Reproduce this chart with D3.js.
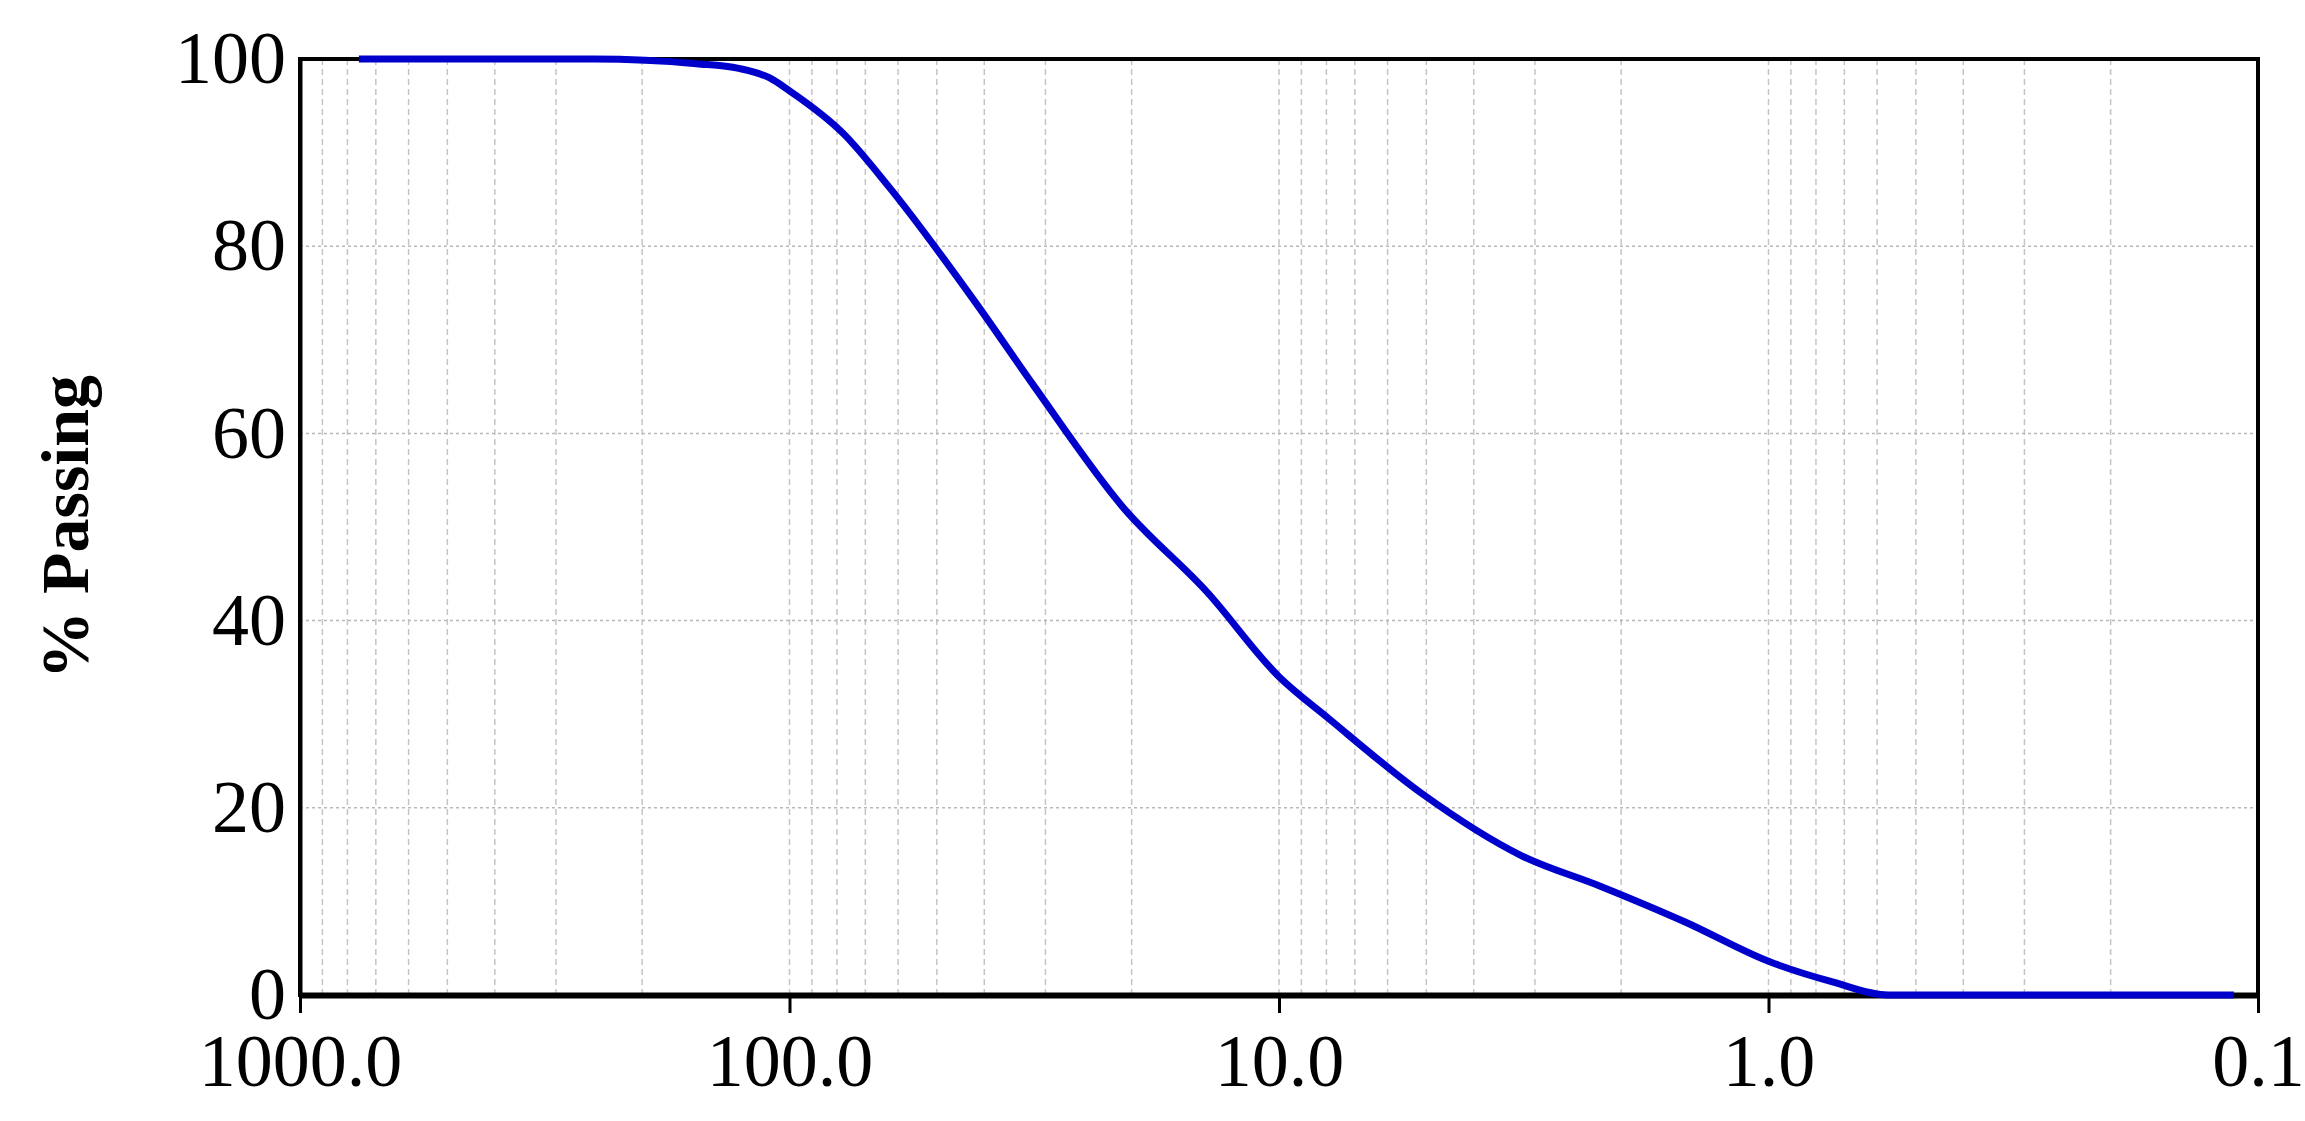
<!DOCTYPE html>
<html><head><meta charset="utf-8">
<script src="https://cdn.jsdelivr.net/npm/d3@7"></script>
<style>body{margin:0;background:#fff}</style></head>
<body><svg id="c"></svg>
<script>
// grain size (mm) and % passing
var sizes = [758, 400, 251, 155, 127, 110, 100, 77.5, 63, 41.7, 31.6, 20.9, 14, 10, 7.9, 5.1, 3.2, 2.2, 1.48, 1.0, 0.74, 0.57, 0.112];
var passing = [100, 100, 100, 99.5, 99, 98, 96.6, 92, 86.5, 74, 65, 52.2, 43, 34, 29.5, 21.5, 14.9, 11.6, 7.8, 3.6, 1.4, 0, 0];
var xTicks = [1000, 100, 10, 1, 0.1];
var yTicks = [0, 20, 40, 60, 80, 100];

var W = 2305, H = 1121, m = {l: 300, r: 47, t: 59, b: 126};
var svg = d3.select("#c").attr("width", W).attr("height", H);
var x = d3.scaleLog().domain([1000, 0.1]).range([m.l, W - m.r]);
var y = d3.scaleLinear().domain([0, 100]).range([H - m.b, m.t]);

var minor = [];
[100, 10, 1, 0.1].forEach(function (d) { for (var k = 2; k <= 9; k++) minor.push(d * k); });
svg.selectAll(".vx").data(minor.concat([100, 10, 1])).enter().append("line")
  .attr("x1", d => x(d)).attr("x2", d => x(d)).attr("y1", y(0)).attr("y2", y(100))
  .attr("stroke", "#c4c4c4").attr("stroke-width", 1.5).attr("stroke-dasharray", "6,4");
svg.selectAll(".hy").data(yTicks.slice(1, 5)).enter().append("line")
  .attr("x1", x(1000)).attr("x2", x(0.1)).attr("y1", d => y(d)).attr("y2", d => y(d))
  .attr("stroke", "#b8b8b8").attr("stroke-width", 1.5).attr("stroke-dasharray", "3,3");

svg.append("rect").attr("x", m.l).attr("y", m.t).attr("width", W - m.l - m.r).attr("height", H - m.t - m.b)
  .attr("fill", "none").attr("stroke", "#000").attr("stroke-width", 4);

var ax = svg.append("g").attr("transform", "translate(0," + y(0) + ")")
  .call(d3.axisBottom(x).tickValues(xTicks).tickFormat(d3.format(".1f")).tickSize(18).tickSizeOuter(0));
ax.select(".domain").attr("stroke-width", 6);
ax.selectAll(".tick line").attr("stroke-width", 3);
ax.selectAll("text").attr("font-family", "Liberation Serif").attr("font-size", 74).attr("fill", "#000").attr("dy", "0.95em");

var ay = svg.append("g").attr("transform", "translate(" + m.l + ",0)")
  .call(d3.axisLeft(y).tickValues(yTicks).tickSize(0).tickPadding(14));
ay.select(".domain").attr("stroke-width", 4);
ay.selectAll("text").attr("font-family", "Liberation Serif").attr("font-size", 74).attr("fill", "#000");

svg.append("text").attr("transform", "translate(88," + (m.t + (H - m.t - m.b) / 2) + ") rotate(-90)")
  .attr("text-anchor", "middle").attr("font-family", "Liberation Serif").attr("font-weight", "bold")
  .attr("font-size", 68).text("% Passing");

var pts = sizes.map((s, i) => [s, passing[i]]);
svg.append("path").datum(pts).attr("fill", "none").attr("stroke", "#0000cc").attr("stroke-width", 7)
  .attr("d", d3.line().x(d => x(d[0])).y(d => y(d[1])).curve(d3.curveMonotoneX));
</script></body></html>
